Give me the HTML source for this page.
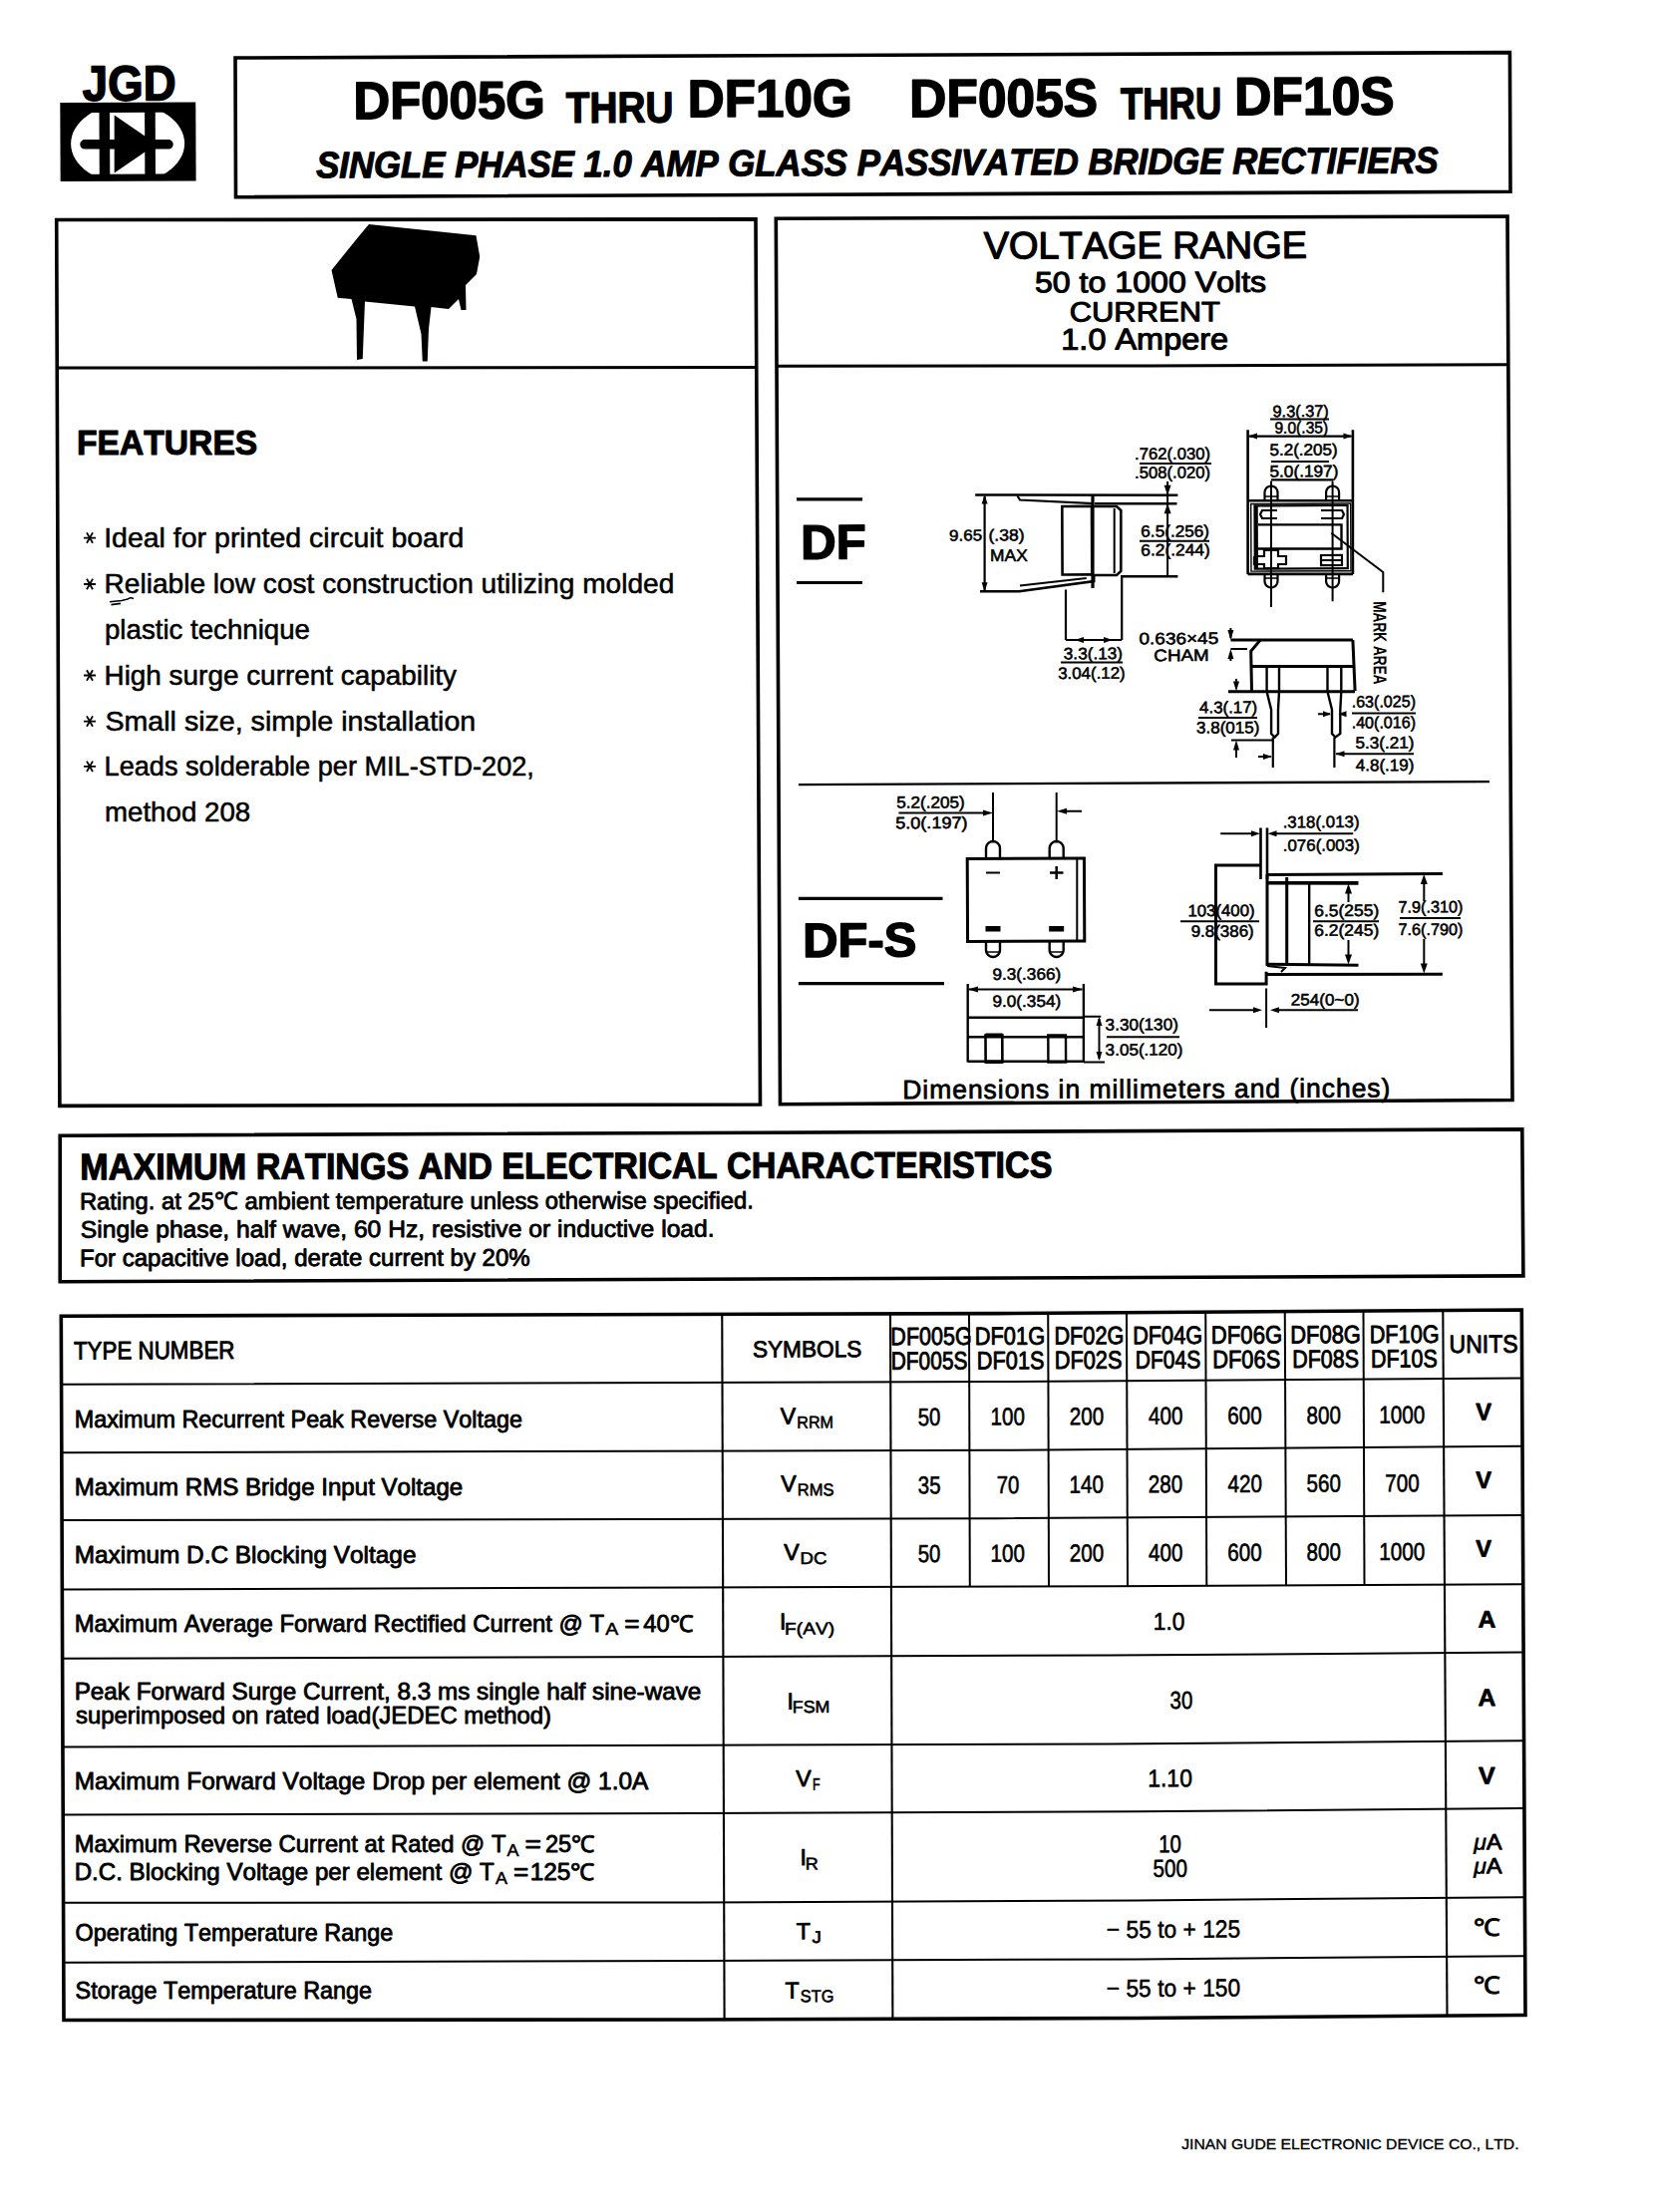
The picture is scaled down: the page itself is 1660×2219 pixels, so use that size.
<!DOCTYPE html>
<html><head><meta charset="utf-8"><style>
html,body{margin:0;padding:0;background:#fff;}
svg{display:block}
text{font-family:"Liberation Sans",sans-serif;fill:#000;font-kerning:none;}
</style></head><body>
<svg width="1660" height="2219" viewBox="0 0 1660 2219">
<rect width="1660" height="2219" fill="#fff"/>
<g transform="rotate(-0.25 830 1110)" stroke="#000" fill="none" stroke-linecap="butt" stroke-linejoin="miter">
<rect x="64.7" y="99.75" width="135.96" height="78.89" stroke="none" fill="#000"/>
<clipPath id="lc"><rect x="64.36" y="109.85" width="140" height="61.7"/></clipPath>
<ellipse cx="132.32" cy="140.95" rx="57" ry="40" fill="#fff" stroke="none" clip-path="url(#lc)"/>
<rect x="103.86" y="108.82" width="10.52" height="64.05" stroke="none" fill="#000"/>
<rect x="149.46" y="109.02" width="10.62" height="64.05" stroke="none" fill="#000"/>
<polygon points="119.05,112.29 118.79,170.29 161.22,141.47" stroke="none" fill="#000"/>
<line x1="89.22" y1="141.56" x2="173.22" y2="141.93" stroke-width="9.5" stroke-linecap="round"/>
<polygon points="240.6,55.42 1519.01,55.6 1519,195.3 240.49,195.12" stroke-width="3.6" fill="none"/>
<polygon points="60.59,217.13 761.88,219.59 762.51,1107.71 59.91,1106.04" stroke-width="3.6" fill="none"/>
<polyline points="60.24,365.63 503.24,367.32 763.24,368.2" stroke-width="3" fill="none"/>
<polygon points="373.87,223 481.32,234.72 484.97,255.99 481.65,273.47 470.6,284.42 470.99,309.43 465.99,309.4 463.54,298.39 453.49,308.35 436,306.27 433.41,328.26 432.02,360.76 427.02,360.73 425.89,333.23 419.51,305.7 369.53,300.48 368.97,312.98 367.03,357.97 361.27,358.95 360.95,317.95 356.04,297.92 342.29,296.61 336.17,268.84 361.3,237.95" stroke="none" fill="#000"/>
<line x1="86.5" y1="536.35" x2="98.5" y2="536.4" stroke-width="1.8"/>
<line x1="89.52" y1="531.17" x2="95.47" y2="541.59" stroke-width="1.8"/>
<line x1="95.52" y1="531.19" x2="89.47" y2="541.56" stroke-width="1.8"/>
<line x1="86.29" y1="582.75" x2="98.29" y2="582.8" stroke-width="1.8"/>
<line x1="89.32" y1="577.57" x2="95.27" y2="587.99" stroke-width="1.8"/>
<line x1="95.32" y1="577.59" x2="89.27" y2="587.96" stroke-width="1.8"/>
<line x1="85.89" y1="674.25" x2="97.89" y2="674.3" stroke-width="1.8"/>
<line x1="88.92" y1="669.07" x2="94.87" y2="679.48" stroke-width="1.8"/>
<line x1="94.92" y1="669.09" x2="88.87" y2="679.46" stroke-width="1.8"/>
<line x1="85.69" y1="720.35" x2="97.69" y2="720.4" stroke-width="1.8"/>
<line x1="88.72" y1="715.17" x2="94.67" y2="725.58" stroke-width="1.8"/>
<line x1="94.72" y1="715.19" x2="88.67" y2="725.56" stroke-width="1.8"/>
<line x1="85.5" y1="765.55" x2="97.5" y2="765.6" stroke-width="1.8"/>
<line x1="88.52" y1="760.37" x2="94.47" y2="770.78" stroke-width="1.8"/>
<line x1="94.52" y1="760.39" x2="88.47" y2="770.76" stroke-width="1.8"/>
<polygon points="782.19,218.98 1515.89,219.98 1517.02,1106.5 782.51,1107.59" stroke-width="3.6" fill="none"/>
<polyline points="782.24,367.08 1153.24,368.4 1517.24,368.79" stroke-width="3" fill="none"/>
<line x1="801.66" y1="500.77" x2="867.66" y2="501.06" stroke-width="3.2"/>
<line x1="801.29" y1="584.37" x2="867.29" y2="584.66" stroke-width="3.2"/>
<line x1="990.27" y1="498.69" x2="989.86" y2="592.69" stroke-width="2.2"/>
<polygon points="990.28,497.09 987.24,506.08 993.24,506.11" stroke="none" fill="#000"/>
<polygon points="989.85,593.99 986.89,584.98 992.89,585.01" stroke="none" fill="#000"/>
<line x1="980.88" y1="497.15" x2="1184.07" y2="498.34" stroke-width="2.6"/>
<polyline points="1023.17,498.34 1025.65,502.35 1099.64,506.37" stroke-width="2.2" fill="none"/>
<line x1="1100.64" y1="506.38" x2="1183.14" y2="506.74" stroke-width="2.6"/>
<rect x="1067.92" y="509.03" width="29.7" height="68.53" stroke-width="2.6" fill="none"/>
<line x1="1098.67" y1="498.17" x2="1098.27" y2="591.17" stroke-width="3.2"/>
<polyline points="1098.62,509.17 1122.62,509.27 1126.91,513.29 1126.64,574.29 1122.32,578.27 1098.32,578.17" stroke-width="2.6" fill="none"/>
<line x1="1120.32" y1="511.26" x2="1120.03" y2="576.26" stroke-width="2"/>
<line x1="1126.32" y1="579.59" x2="1183.72" y2="579.84" stroke-width="2.6"/>
<polyline points="985.25,593.97 1024.45,594.14 1099.5,584.17 1099.53,577.17" stroke-width="2.6" fill="none"/>
<polyline points="1025.28,588.45 1092.01,581.24" stroke-width="2" fill="none"/>
<line x1="1071.26" y1="592.45" x2="1071.04" y2="643.05" stroke-width="2.2"/>
<line x1="1127.52" y1="579.29" x2="1127.24" y2="643.29" stroke-width="2.2"/>
<line x1="1071.04" y1="643.05" x2="1127.24" y2="643.29" stroke-width="2.2"/>
<polygon points="1080.04,643.09 1089.05,640.13 1089.03,646.13" stroke="none" fill="#000"/>
<polygon points="1118.04,643.25 1109.05,640.21 1109.03,646.21" stroke="none" fill="#000"/>
<line x1="1065.94" y1="665.43" x2="1127.94" y2="665.7" stroke-width="2"/>
<line x1="1145.81" y1="466.37" x2="1217.81" y2="466.69" stroke-width="2"/>
<line x1="1173.83" y1="484.49" x2="1173.42" y2="579.49" stroke-width="2"/>
<polygon points="1173.77,498.29 1170.32,488.28 1177.32,488.31" stroke="none" fill="#000"/>
<polygon points="1173.74,506.69 1170.19,516.68 1177.19,516.71" stroke="none" fill="#000"/>
<line x1="1145.47" y1="544.07" x2="1215.47" y2="544.38" stroke-width="2"/>
<line x1="1277" y1="422.44" x2="1336" y2="422.7" stroke-width="2"/>
<line x1="1255.93" y1="439.45" x2="1358.43" y2="439.9" stroke-width="2.2"/>
<polygon points="1254.93,439.45 1263.94,436.49 1263.92,442.49" stroke="none" fill="#000"/>
<polygon points="1359.43,439.9 1350.44,436.86 1350.42,442.86" stroke="none" fill="#000"/>
<line x1="1254.56" y1="433.05" x2="1253.93" y2="577.74" stroke-width="2.6"/>
<line x1="1359.86" y1="433.51" x2="1359.23" y2="578.2" stroke-width="2.6"/>
<line x1="1277.82" y1="464.95" x2="1335.82" y2="465.2" stroke-width="2"/>
<line x1="1277.74" y1="483.35" x2="1339.74" y2="483.62" stroke-width="2.2"/>
<line x1="1254.25" y1="504.15" x2="1359.55" y2="504.6" stroke-width="2.6"/>
<line x1="1253.93" y1="577.74" x2="1359.23" y2="578.2" stroke-width="2.6"/>
<rect x="1257.33" y="507.36" width="100.01" height="67.64" stroke-width="1.4" fill="none"/>
<rect x="1261.13" y="509.28" width="93.03" height="63.21" stroke-width="2.2" fill="none"/>
<rect x="1260.63" y="509.27" width="3.73" height="62.82" stroke="none" fill="#000"/>
<polyline points="1264.54,528.29 1348.04,528.65 1347.94,552.75 1264.44,552.39" stroke-width="2.4" fill="none"/>
<line x1="1277.73" y1="484.55" x2="1277.18" y2="610.85" stroke-width="2"/>
<polyline points="1271.15,504.22 1271.18,495.92 1271.41,494.24 1272.07,492.67 1273.11,491.33 1274.46,490.3 1276.03,489.66 1277.71,489.45 1279.39,489.68 1280.96,490.33 1282.3,491.37 1283.33,492.72 1283.97,494.29 1284.18,495.98 1284.15,504.28" stroke-width="2.2" fill="none"/>
<line x1="1271.17" y1="499.92" x2="1284.17" y2="499.98" stroke-width="1.6"/>
<polyline points="1270.83,577.82 1270.8,584.92 1271.01,586.6 1271.65,588.17 1272.68,589.52 1274.02,590.56 1275.59,591.22 1277.27,591.45 1278.95,591.23 1280.52,590.59 1281.87,589.56 1282.91,588.22 1283.57,586.66 1283.8,584.98 1283.83,577.88" stroke-width="2.2" fill="none"/>
<line x1="1270.81" y1="581.92" x2="1283.81" y2="581.98" stroke-width="1.6"/>
<line x1="1339.33" y1="484.82" x2="1338.81" y2="605.42" stroke-width="2"/>
<polyline points="1332.75,504.49 1332.78,496.19 1333.01,494.51 1333.67,492.94 1334.71,491.6 1336.06,490.57 1337.63,489.93 1339.31,489.72 1340.99,489.95 1342.56,490.6 1343.9,491.64 1344.93,492.99 1345.57,494.56 1345.78,496.24 1345.75,504.54" stroke-width="2.2" fill="none"/>
<line x1="1332.77" y1="500.19" x2="1345.77" y2="500.24" stroke-width="1.6"/>
<polyline points="1332.43,578.09 1332.39,585.19 1332.61,586.87 1333.25,588.44 1334.28,589.79 1335.62,590.83 1337.18,591.49 1338.87,591.72 1340.55,591.5 1342.12,590.86 1343.47,589.83 1344.51,588.49 1345.17,586.93 1345.39,585.24 1345.43,578.14" stroke-width="2.2" fill="none"/>
<line x1="1332.41" y1="582.19" x2="1345.41" y2="582.24" stroke-width="1.6"/>
<polyline points="1283.6,513.97 1268.61,513.91 1266.59,517.9 1268.57,521.91 1283.57,521.97" stroke-width="2.2" fill="none"/>
<polyline points="1327.6,514.17 1348.6,514.26 1350.59,518.27 1348.57,522.26 1327.57,522.17" stroke-width="2.2" fill="none"/>
<polyline points="1260.4,559.87 1270.4,559.92 1270.43,553.92 1284.43,553.98 1284.4,559.98 1292.4,560.01 1292.37,568.01 1284.37,567.98 1284.35,571.98 1270.35,571.92 1270.37,567.92 1260.37,567.87 1260.4,559.87" stroke-width="2.2" fill="none"/>
<rect x="1327.41" y="559.17" width="20.96" height="10.09" stroke-width="2.2" fill="none"/>
<line x1="1327.39" y1="564.17" x2="1348.39" y2="564.26" stroke-width="1.8"/>
<polyline points="1337.81,536.91 1389.63,576.44 1389.54,596.74" stroke-width="2" fill="none"/>
<text x="0" y="0" transform="translate(1379.71,605.59) rotate(90)" font-size="18.5" font-weight="bold" textLength="83.4" lengthAdjust="spacingAndGlyphs" stroke="none">MARK AREA</text>
<line x1="1236.44" y1="643.87" x2="1358.94" y2="644.4" stroke-width="3"/>
<polyline points="1266.14,644 1256.69,655.06 1257.32,694.96" stroke-width="3" fill="none"/>
<line x1="1358.94" y1="644.4" x2="1360.91" y2="695.31" stroke-width="3"/>
<line x1="1256.92" y1="670.36" x2="1360.92" y2="670.81" stroke-width="3"/>
<line x1="1233.81" y1="695.56" x2="1360.81" y2="696.11" stroke-width="3"/>
<polygon points="1236.44,643.77 1233.48,633.76 1239.48,633.78" stroke="none" fill="#000"/>
<line x1="1236.49" y1="631.77" x2="1236.45" y2="641.77" stroke-width="2"/>
<line x1="1236.4" y1="652.77" x2="1253" y2="652.84" stroke-width="2"/>
<polygon points="1236.4,652.77 1233.36,662.76 1239.36,662.78" stroke="none" fill="#000"/>
<line x1="1236.38" y1="656.77" x2="1236.35" y2="664.77" stroke-width="2"/>
<line x1="1272.52" y1="670.43" x2="1272.41" y2="695.73" stroke-width="2.4"/>
<line x1="1284.92" y1="670.48" x2="1284.81" y2="695.78" stroke-width="2.4"/>
<polyline points="1272.41,695.73 1276.83,713.95 1276.73,737.95 1280.21,741.46 1283.63,737.98 1283.73,713.98 1284.81,695.78" stroke-width="2.4" fill="none"/>
<line x1="1278.41" y1="741.45" x2="1278.28" y2="771.95" stroke-width="2.2"/>
<line x1="1333.42" y1="670.69" x2="1333.31" y2="695.99" stroke-width="2.4"/>
<line x1="1347.22" y1="670.75" x2="1347.11" y2="696.05" stroke-width="2.4"/>
<polyline points="1333.31,695.99 1337.73,714.21 1337.63,738.21 1341.11,741.73 1345.93,738.25 1346.03,714.25 1347.11,696.05" stroke-width="2.4" fill="none"/>
<line x1="1340.01" y1="741.72" x2="1339.88" y2="772.22" stroke-width="2.2"/>
<polygon points="1241.81,695.29 1238.86,685.28 1244.86,685.31" stroke="none" fill="#000"/>
<line x1="1241.87" y1="682.79" x2="1241.85" y2="687.79" stroke-width="2"/>
<line x1="1236.6" y1="744.17" x2="1279.6" y2="744.36" stroke-width="2"/>
<polygon points="1241.6,744.39 1238.56,754.38 1244.56,754.41" stroke="none" fill="#000"/>
<line x1="1241.57" y1="751.79" x2="1241.52" y2="761.79" stroke-width="2"/>
<line x1="1263.53" y1="760.89" x2="1276.53" y2="760.95" stroke-width="2"/>
<polygon points="1277.53,760.95 1268.54,757.91 1268.51,763.91" stroke="none" fill="#000"/>
<line x1="1203.7" y1="721.63" x2="1262.7" y2="721.88" stroke-width="2"/>
<line x1="1357.72" y1="717.9" x2="1421.72" y2="718.18" stroke-width="2"/>
<line x1="1323.71" y1="718.45" x2="1335.71" y2="718.5" stroke-width="2"/>
<polygon points="1336.71,718.51 1328.73,715.47 1328.7,721.47" stroke="none" fill="#000"/>
<polygon points="1344.21,718.54 1352.23,715.57 1352.2,721.57" stroke="none" fill="#000"/>
<line x1="1341.54" y1="758.43" x2="1419.54" y2="758.77" stroke-width="2"/>
<polygon points="1341.04,758.43 1350.05,755.47 1350.03,761.47" stroke="none" fill="#000"/>
<line x1="802.31" y1="786.98" x2="1495.42" y2="787" stroke-width="2.4"/>
<line x1="801.81" y1="901.28" x2="946.41" y2="901.91" stroke-width="3.2"/>
<line x1="801.44" y1="986.47" x2="947.54" y2="987.11" stroke-width="3.2"/>
<rect x="971.28" y="862.11" width="117.24" height="82.91" stroke-width="3" fill="none"/>
<line x1="1081.38" y1="862.59" x2="1081.02" y2="944.99" stroke-width="2"/>
<line x1="997.37" y1="795.73" x2="997.16" y2="844.43" stroke-width="2"/>
<polyline points="990.08,862.2 990.13,851.7 990.38,849.89 991.08,848.2 992.2,846.76 993.66,845.65 995.35,844.96 997.16,844.73 998.97,844.97 1000.65,845.68 1002.1,846.8 1003.21,848.25 1003.9,849.94 1004.13,851.76 1004.08,862.26" stroke-width="2.4" fill="none"/>
<polyline points="989.72,944.7 989.68,953.7 989.91,955.51 990.61,957.2 991.71,958.65 993.16,959.77 994.84,960.48 996.65,960.73 998.47,960.5 1000.16,959.8 1001.61,958.7 1002.73,957.25 1003.44,955.57 1003.68,953.76 1003.72,944.76" stroke-width="2.4" fill="none"/>
<line x1="989.67" y1="955.7" x2="1003.67" y2="955.76" stroke-width="1.4"/>
<rect x="989.29" y="929.69" width="14.98" height="5.57" stroke="none" fill="#000"/>
<line x1="1061.07" y1="796.01" x2="1060.86" y2="844.7" stroke-width="2"/>
<polyline points="1053.78,862.47 1053.83,851.97 1054.07,850.16 1054.78,848.48 1055.9,847.03 1057.35,845.93 1059.05,845.24 1060.86,845 1062.67,845.25 1064.35,845.96 1065.8,847.08 1066.91,848.53 1067.6,850.22 1067.83,852.04 1067.78,862.54" stroke-width="2.4" fill="none"/>
<polyline points="1053.42,944.97 1053.38,953.97 1053.61,955.79 1054.31,957.48 1055.41,958.93 1056.86,960.05 1058.54,960.76 1060.35,961 1062.17,960.77 1063.86,960.08 1065.31,958.98 1066.43,957.53 1067.14,955.84 1067.38,954.03 1067.42,945.03" stroke-width="2.4" fill="none"/>
<line x1="1053.37" y1="955.97" x2="1067.37" y2="956.03" stroke-width="1.4"/>
<rect x="1052.99" y="929.97" width="14.98" height="5.57" stroke="none" fill="#000"/>
<line x1="990.02" y1="876.2" x2="1004.02" y2="876.26" stroke-width="2.2"/>
<line x1="1054.02" y1="876.48" x2="1067.52" y2="876.53" stroke-width="2.5"/>
<line x1="1060.75" y1="870" x2="1060.69" y2="883" stroke-width="2.5"/>
<line x1="902.68" y1="815.91" x2="988.28" y2="816.29" stroke-width="2"/>
<polygon points="997.28,816.33 987.3,813.28 987.27,819.28" stroke="none" fill="#000"/>
<line x1="1069.29" y1="814.74" x2="1086.29" y2="814.82" stroke-width="2"/>
<polygon points="1061.29,814.71 1071.3,811.75 1071.28,817.75" stroke="none" fill="#000"/>
<line x1="972.51" y1="993.22" x2="1086.01" y2="993.72" stroke-width="2"/>
<polygon points="971.51,993.22 981.52,990.26 981.5,996.26" stroke="none" fill="#000"/>
<polygon points="1086.51,993.72 1076.52,990.67 1076.5,996.67" stroke="none" fill="#000"/>
<line x1="971.24" y1="987.62" x2="970.89" y2="1066.21" stroke-width="2.4"/>
<line x1="1087.43" y1="988.12" x2="1087.09" y2="1066.72" stroke-width="2.4"/>
<line x1="971.09" y1="1021.31" x2="1087.29" y2="1021.82" stroke-width="2.6"/>
<line x1="971" y1="1040.91" x2="1087.2" y2="1041.42" stroke-width="2.6"/>
<line x1="970.9" y1="1065.31" x2="1087.1" y2="1065.82" stroke-width="2.6"/>
<rect x="988.81" y="1039.19" width="16.78" height="27.07" stroke-width="2.6" fill="none"/>
<rect x="988.82" y="1037.19" width="16.88" height="4.07" stroke="none" fill="#000"/>
<rect x="988.7" y="1064.19" width="16.88" height="3.57" stroke="none" fill="#000"/>
<rect x="1051.61" y="1039.47" width="17.68" height="27.08" stroke-width="2.4" fill="none"/>
<line x1="1087.39" y1="1020.82" x2="1104.69" y2="1020.9" stroke-width="2"/>
<line x1="1087.19" y1="1066.62" x2="1108.19" y2="1066.71" stroke-width="2"/>
<line x1="1102.88" y1="1023.19" x2="1102.71" y2="1063.19" stroke-width="2"/>
<polygon points="1102.89,1021.19 1099.85,1030.18 1105.85,1030.2" stroke="none" fill="#000"/>
<polygon points="1102.7,1065.19 1099.74,1056.18 1105.74,1056.2" stroke="none" fill="#000"/>
<line x1="1110.3" y1="1041.52" x2="1183.3" y2="1041.84" stroke-width="2"/>
<line x1="1225.39" y1="837.92" x2="1257.19" y2="838.06" stroke-width="2"/>
<polygon points="1265.19,838.1 1256.2,835.06 1256.18,841.06" stroke="none" fill="#000"/>
<line x1="1281.19" y1="838.17" x2="1358.39" y2="838.5" stroke-width="2"/>
<polygon points="1272.69,838.13 1281.7,835.17 1281.68,841.17" stroke="none" fill="#000"/>
<line x1="1265.71" y1="832.5" x2="1265.49" y2="883.9" stroke-width="2.6"/>
<line x1="1272.21" y1="832.53" x2="1271.99" y2="883.93" stroke-width="2.6"/>
<polyline points="1265.55,869.9 1220.55,869.7 1220.03,988.7 1270.63,988.92 1270.69,976.72" stroke-width="3" fill="none"/>
<line x1="1272.01" y1="879.33" x2="1447.91" y2="879.29" stroke-width="3"/>
<line x1="1271.97" y1="887.73" x2="1363.47" y2="888.23" stroke-width="3.6"/>
<line x1="1271.62" y1="969.23" x2="1363.11" y2="970.62" stroke-width="3"/>
<line x1="1271.57" y1="979.53" x2="1447.47" y2="979.89" stroke-width="3"/>
<line x1="1272.01" y1="878.93" x2="1271.61" y2="970.93" stroke-width="3"/>
<line x1="1291.7" y1="882.01" x2="1291.31" y2="971.01" stroke-width="3"/>
<line x1="1314.18" y1="887.11" x2="1313.81" y2="971.11" stroke-width="2.4"/>
<polyline points="1271.61,970.93 1289.6,973 1285.58,976.99" stroke-width="2" fill="none"/>
<line x1="1184.81" y1="925.75" x2="1263.81" y2="926.09" stroke-width="2"/>
<line x1="1317.81" y1="926.33" x2="1383.81" y2="926.61" stroke-width="2"/>
<line x1="1353.43" y1="897.28" x2="1353.39" y2="907.28" stroke-width="2"/>
<polygon points="1353.47,888.78 1349.93,898.77 1356.93,898.8" stroke="none" fill="#000"/>
<line x1="1353.22" y1="945.28" x2="1353.16" y2="960.28" stroke-width="2"/>
<polygon points="1353.12,969.78 1349.66,959.77 1356.66,959.8" stroke="none" fill="#000"/>
<line x1="1404.82" y1="923.61" x2="1465.82" y2="923.87" stroke-width="2"/>
<line x1="1429.28" y1="887.61" x2="1429.19" y2="906.61" stroke-width="2"/>
<polygon points="1429.31,879.61 1425.77,889.6 1432.77,889.63" stroke="none" fill="#000"/>
<line x1="1429.03" y1="944.61" x2="1428.91" y2="970.61" stroke-width="2"/>
<polygon points="1428.88,979.11 1425.42,969.1 1432.42,969.13" stroke="none" fill="#000"/>
<line x1="1280.42" y1="1015.16" x2="1362.42" y2="1015.52" stroke-width="2"/>
<line x1="1213.42" y1="1014.87" x2="1262.42" y2="1015.09" stroke-width="2"/>
<polygon points="1266.42,1015.1 1257.43,1012.06 1257.41,1018.06" stroke="none" fill="#000"/>
<polygon points="1274.42,1015.14 1283.43,1012.18 1283.4,1018.18" stroke="none" fill="#000"/>
<line x1="1270.61" y1="993.52" x2="1270.44" y2="1032.92" stroke-width="2"/>
<polygon points="60.08,1135.84 1526.69,1135.94 1527.15,1282.94 59.44,1282.44" stroke-width="3.6" fill="none"/>
<polygon points="60.39,1316.84 999.09,1318.34 1525.4,1317.04 1526.02,2024.45 1136.01,2025.84 696,2025.42 60.01,2023.15" stroke-width="3.6" fill="none"/>
<polyline points="59.79,1385.49 998.79,1386.74 1524.8,1385.53" stroke-width="2.0" fill="none"/>
<polyline points="59.49,1453.84 998.49,1455.54 1524.51,1453.83" stroke-width="2.0" fill="none"/>
<polyline points="59.2,1521.64 998.2,1523.94 1524.2,1523.03" stroke-width="2.0" fill="none"/>
<polyline points="58.89,1591.14 697.9,1591.93 1111.9,1592.48 1523.9,1592.23" stroke-width="2.0" fill="none"/>
<polyline points="59.59,1660.39 697.59,1661.43 1111.6,1661.73 1524.6,1660.64" stroke-width="2.0" fill="none"/>
<polyline points="59.2,1749.14 697.21,1750.18 1111.21,1750.73 1525.22,1749.24" stroke-width="2.0" fill="none"/>
<polyline points="59.91,1817.15 696.91,1818.43 1136.91,1818.65 1524.92,1817.04" stroke-width="2.0" fill="none"/>
<polyline points="59.52,1905.4 696.52,1907.93 1136.52,1907.75 1525.53,1906.24" stroke-width="2.0" fill="none"/>
<polyline points="59.26,1965.4 696.26,1966.42 1136.26,1966.74 1525.27,1965.24" stroke-width="2.0" fill="none"/>
<polyline points="723.34,1317.54 722.6,2025.54" stroke-width="2.1" fill="none"/>
<polyline points="892.09,1318.27 891.4,2026.28" stroke-width="2.1" fill="none"/>
<polyline points="971.1,1317.62 970.7,1592.62" stroke-width="2.0" fill="none"/>
<polyline points="1050.34,1317.96 1049.9,1592.46" stroke-width="2.0" fill="none"/>
<polyline points="1129.1,1317.31 1128.9,1592.31" stroke-width="2.0" fill="none"/>
<polyline points="1208.35,1317.65 1208.2,1592.15" stroke-width="2.0" fill="none"/>
<polyline points="1287.85,1317 1287.9,1592" stroke-width="2.0" fill="none"/>
<polyline points="1366.6,1316.84 1366.4,1591.85" stroke-width="2.0" fill="none"/>
<polyline points="1446.4,1316.69 1447.51,2024.7" stroke-width="2.1" fill="none"/>
<polyline points="112.22,600.66 124.22,599.42 130.23,597.94 133.23,596.45 136.23,597.47" stroke-width="1.6" fill="none"/>
<line x1="113.7" y1="603.47" x2="123.21" y2="602.31" stroke-width="1.6"/>
</g>
<text x="82.85" y="100.86" font-size="49.58" transform="rotate(-0.25 82.85 100.86)" font-weight="bold" textLength="93.92" lengthAdjust="spacingAndGlyphs" stroke="#000" stroke-width="1.49" stroke-linejoin="round">JGD</text>
<text x="354.39" y="119.21" font-size="52.93" transform="rotate(-0.25 354.39 119.21)" font-weight="bold" textLength="192.48" lengthAdjust="spacingAndGlyphs" stroke="#000" stroke-width="1.59" stroke-linejoin="round">DF005G</text>
<text x="567.72" y="123.1" font-size="43.52" transform="rotate(-0.25 567.72 123.1)" font-weight="bold" textLength="107.75" lengthAdjust="spacingAndGlyphs" stroke="#000" stroke-width="1.31" stroke-linejoin="round">THRU</text>
<text x="689.87" y="117.21" font-size="52.93" transform="rotate(-0.25 689.87 117.21)" font-weight="bold" textLength="165.01" lengthAdjust="spacingAndGlyphs" stroke="#000" stroke-width="1.59" stroke-linejoin="round">DF10G</text>
<text x="912.36" y="117.2" font-size="53.62" transform="rotate(-0.25 912.36 117.2)" font-weight="bold" textLength="188.85" lengthAdjust="spacingAndGlyphs" stroke="#000" stroke-width="1.61" stroke-linejoin="round">DF005S</text>
<text x="1124.01" y="119.33" font-size="44.57" transform="rotate(-0.25 1124.01 119.33)" font-weight="bold" textLength="101.3" lengthAdjust="spacingAndGlyphs" stroke="#000" stroke-width="1.34" stroke-linejoin="round">THRU</text>
<text x="1238.36" y="115.2" font-size="53.62" transform="rotate(-0.25 1238.36 115.2)" font-weight="bold" textLength="160.35" lengthAdjust="spacingAndGlyphs" stroke="#000" stroke-width="1.61" stroke-linejoin="round">DF10S</text>
<text x="317.13" y="178.35" font-size="36.94" transform="rotate(-0.25 317.13 178.35)" font-weight="bold" font-style="italic" textLength="1125.67" lengthAdjust="spacingAndGlyphs" stroke="#000" stroke-width="1.11" stroke-linejoin="round">SINGLE PHASE 1.0 AMP GLASS PASSIVATED BRIDGE RECTIFIERS</text>
<text x="77.02" y="455.73" font-size="34.82" font-weight="bold" textLength="181.27" lengthAdjust="spacingAndGlyphs" stroke="#000" stroke-width="1.04" stroke-linejoin="round">FEATURES</text>
<text x="104.15" y="548.62" font-size="28.3" textLength="361.17" lengthAdjust="spacingAndGlyphs" stroke="#000" stroke-width="0.55" stroke-linejoin="round">Ideal for printed circuit board</text>
<text x="104.47" y="595.02" font-size="28.3" textLength="571.87" lengthAdjust="spacingAndGlyphs" stroke="#000" stroke-width="0.55" stroke-linejoin="round">Reliable low cost construction utilizing molded</text>
<text x="104.99" y="640.98" font-size="28.3" textLength="205.96" lengthAdjust="spacingAndGlyphs" stroke="#000" stroke-width="0.55" stroke-linejoin="round">plastic technique</text>
<text x="104.49" y="686.52" font-size="28.3" textLength="353.59" lengthAdjust="spacingAndGlyphs" stroke="#000" stroke-width="0.55" stroke-linejoin="round">High surge current capability</text>
<text x="105.48" y="732.62" font-size="28.3" textLength="371.8" lengthAdjust="spacingAndGlyphs" stroke="#000" stroke-width="0.55" stroke-linejoin="round">Small size, simple installation</text>
<text x="104.55" y="777.83" font-size="28.3" textLength="431.31" lengthAdjust="spacingAndGlyphs" stroke="#000" stroke-width="0.55" stroke-linejoin="round">Leads solderable per MIL-STD-202,</text>
<text x="104.94" y="823.52" font-size="28.3" textLength="146.29" lengthAdjust="spacingAndGlyphs" stroke="#000" stroke-width="0.55" stroke-linejoin="round">method 208</text>
<text x="986.75" y="259.33" font-size="38.04" transform="rotate(-0.1 986.75 259.33)" textLength="324.21" lengthAdjust="spacingAndGlyphs" stroke="#000" stroke-width="1.33" stroke-linejoin="round">VOLTAGE RANGE</text>
<text x="1037.98" y="293.24" font-size="29.39" transform="rotate(-0.1 1037.98 293.24)" textLength="232.17" lengthAdjust="spacingAndGlyphs" stroke="#000" stroke-width="1.03" stroke-linejoin="round">50 to 1000 Volts</text>
<text x="1072.67" y="322.51" font-size="27.96" transform="rotate(-0.1 1072.67 322.51)" textLength="151.3" lengthAdjust="spacingAndGlyphs" stroke="#000" stroke-width="0.98" stroke-linejoin="round">CURRENT</text>
<text x="1064.3" y="350.72" font-size="30.08" transform="rotate(-0.1 1064.3 350.72)" textLength="167.86" lengthAdjust="spacingAndGlyphs" stroke="#000" stroke-width="1.05" stroke-linejoin="round">1.0 Ampere</text>
<text x="803.35" y="560.67" font-size="48.75" transform="rotate(-0.25 803.35 560.67)" font-weight="bold" textLength="65.42" lengthAdjust="spacingAndGlyphs" stroke="#000" stroke-width="1.46" stroke-linejoin="round">DF</text>
<text x="1066.84" y="661.31" font-size="16.5" transform="rotate(-0.25 1066.84 661.31)" textLength="59.14" lengthAdjust="spacingAndGlyphs" stroke="#000" stroke-width="0.58" stroke-linejoin="round">3.3(.13)</text>
<text x="1061.15" y="681.01" font-size="16.5" transform="rotate(-0.25 1061.15 681.01)" textLength="67.61" lengthAdjust="spacingAndGlyphs" stroke="#000" stroke-width="0.58" stroke-linejoin="round">3.04(.12)</text>
<text x="952.07" y="542.43" font-size="15.41" transform="rotate(-0.25 952.07 542.43)" textLength="33.18" lengthAdjust="spacingAndGlyphs" stroke="#000" stroke-width="0.54" stroke-linejoin="round">9.65</text>
<text x="991.49" y="542.42" font-size="16.2" transform="rotate(-0.25 991.49 542.42)" textLength="36.22" lengthAdjust="spacingAndGlyphs" stroke="#000" stroke-width="0.57" stroke-linejoin="round">(.38)</text>
<text x="993.07" y="563" font-size="16.87" transform="rotate(-0.25 993.07 563)" textLength="37.7" lengthAdjust="spacingAndGlyphs" stroke="#000" stroke-width="0.59" stroke-linejoin="round">MAX</text>
<text x="1138.07" y="460.91" font-size="16.5" transform="rotate(-0.25 1138.07 460.91)" textLength="75.98" lengthAdjust="spacingAndGlyphs" stroke="#000" stroke-width="0.58" stroke-linejoin="round">.762(.030)</text>
<text x="1138.07" y="479.71" font-size="16.5" transform="rotate(-0.25 1138.07 479.71)" textLength="75.98" lengthAdjust="spacingAndGlyphs" stroke="#000" stroke-width="0.58" stroke-linejoin="round">.508(.020)</text>
<text x="1144.32" y="538.61" font-size="16.5" transform="rotate(-0.25 1144.32 538.61)" textLength="68.76" lengthAdjust="spacingAndGlyphs" stroke="#000" stroke-width="0.58" stroke-linejoin="round">6.5(.256)</text>
<text x="1144.31" y="557.41" font-size="16.5" transform="rotate(-0.25 1144.31 557.41)" textLength="69.48" lengthAdjust="spacingAndGlyphs" stroke="#000" stroke-width="0.58" stroke-linejoin="round">6.2(.244)</text>
<text x="1276.52" y="418.21" font-size="16.5" transform="rotate(-0.25 1276.52 418.21)" textLength="56.3" lengthAdjust="spacingAndGlyphs" stroke="#000" stroke-width="0.58" stroke-linejoin="round">9.3(.37)</text>
<text x="1278.46" y="434.71" font-size="16.5" transform="rotate(-0.25 1278.46 434.71)" textLength="53.72" lengthAdjust="spacingAndGlyphs" stroke="#000" stroke-width="0.58" stroke-linejoin="round">9.0(.35)</text>
<text x="1273.4" y="456.91" font-size="16.5" transform="rotate(-0.25 1273.4 456.91)" textLength="68.37" lengthAdjust="spacingAndGlyphs" stroke="#000" stroke-width="0.58" stroke-linejoin="round">5.2(.205)</text>
<text x="1273.4" y="478.51" font-size="16.5" transform="rotate(-0.25 1273.4 478.51)" textLength="69.08" lengthAdjust="spacingAndGlyphs" stroke="#000" stroke-width="0.58" stroke-linejoin="round">5.0(.197)</text>
<text x="1203.1" y="715.31" font-size="16.5" transform="rotate(-0.25 1203.1 715.31)" textLength="58.16" lengthAdjust="spacingAndGlyphs" stroke="#000" stroke-width="0.58" stroke-linejoin="round">4.3(.17)</text>
<text x="1199.94" y="735.61" font-size="16.5" transform="rotate(-0.25 1199.94 735.61)" textLength="63.53" lengthAdjust="spacingAndGlyphs" stroke="#000" stroke-width="0.58" stroke-linejoin="round">3.8(015)</text>
<text x="1355.72" y="709.51" font-size="16.5" transform="rotate(-0.25 1355.72 709.51)" textLength="64.29" lengthAdjust="spacingAndGlyphs" stroke="#000" stroke-width="0.58" stroke-linejoin="round">.63(.025)</text>
<text x="1355.72" y="730.51" font-size="16.5" transform="rotate(-0.25 1355.72 730.51)" textLength="64.29" lengthAdjust="spacingAndGlyphs" stroke="#000" stroke-width="0.58" stroke-linejoin="round">.40(.016)</text>
<text x="1359.4" y="750.81" font-size="16.5" transform="rotate(-0.25 1359.4 750.81)" textLength="59.17" lengthAdjust="spacingAndGlyphs" stroke="#000" stroke-width="0.58" stroke-linejoin="round">5.3(.21)</text>
<text x="1359.7" y="773.31" font-size="16.5" transform="rotate(-0.25 1359.7 773.31)" textLength="58.87" lengthAdjust="spacingAndGlyphs" stroke="#000" stroke-width="0.58" stroke-linejoin="round">4.8(.19)</text>
<text x="1142.55" y="646.31" font-size="16.5" transform="rotate(-0.25 1142.55 646.31)" textLength="79.66" lengthAdjust="spacingAndGlyphs" stroke="#000" stroke-width="0.58" stroke-linejoin="round">0.636×45</text>
<text x="1157.34" y="663.21" font-size="16.64" transform="rotate(-0.25 1157.34 663.21)" textLength="55.31" lengthAdjust="spacingAndGlyphs" stroke="#000" stroke-width="0.58" stroke-linejoin="round">CHAM</text>
<text x="805.25" y="959.98" font-size="48.19" transform="rotate(-0.25 805.25 959.98)" font-weight="bold" textLength="114.24" lengthAdjust="spacingAndGlyphs" stroke="#000" stroke-width="1.45" stroke-linejoin="round">DF-S</text>
<text x="899.2" y="810.61" font-size="16.5" transform="rotate(-0.25 899.2 810.61)" textLength="68.57" lengthAdjust="spacingAndGlyphs" stroke="#000" stroke-width="0.58" stroke-linejoin="round">5.2(.205)</text>
<text x="898.16" y="831.21" font-size="16.5" transform="rotate(-0.25 898.16 831.21)" textLength="72.47" lengthAdjust="spacingAndGlyphs" stroke="#000" stroke-width="0.58" stroke-linejoin="round">5.0(.197)</text>
<text x="995.48" y="982.91" font-size="16.5" transform="rotate(-0.25 995.48 982.91)" textLength="68.79" lengthAdjust="spacingAndGlyphs" stroke="#000" stroke-width="0.58" stroke-linejoin="round">9.3(.366)</text>
<text x="995.48" y="1010.11" font-size="16.5" transform="rotate(-0.25 995.48 1010.11)" textLength="68.79" lengthAdjust="spacingAndGlyphs" stroke="#000" stroke-width="0.58" stroke-linejoin="round">9.0(.354)</text>
<text x="1108.64" y="1033.51" font-size="16.5" transform="rotate(-0.25 1108.64 1033.51)" textLength="73.23" lengthAdjust="spacingAndGlyphs" stroke="#000" stroke-width="0.58" stroke-linejoin="round">3.30(130)</text>
<text x="1108.64" y="1058.81" font-size="16.5" transform="rotate(-0.25 1108.64 1058.81)" textLength="77.93" lengthAdjust="spacingAndGlyphs" stroke="#000" stroke-width="0.58" stroke-linejoin="round">3.05(.120)</text>
<text x="1286.65" y="830.31" font-size="16.5" transform="rotate(-0.25 1286.65 830.31)" textLength="76.91" lengthAdjust="spacingAndGlyphs" stroke="#000" stroke-width="0.58" stroke-linejoin="round">.318(.013)</text>
<text x="1286.75" y="853.71" font-size="16.5" transform="rotate(-0.25 1286.75 853.71)" textLength="77.01" lengthAdjust="spacingAndGlyphs" stroke="#000" stroke-width="0.58" stroke-linejoin="round">.076(.003)</text>
<text x="1191.41" y="919.21" font-size="16.5" transform="rotate(-0.25 1191.41 919.21)" textLength="67.24" lengthAdjust="spacingAndGlyphs" stroke="#000" stroke-width="0.58" stroke-linejoin="round">103(400)</text>
<text x="1194.7" y="939.81" font-size="16.5" transform="rotate(-0.25 1194.7 939.81)" textLength="63.07" lengthAdjust="spacingAndGlyphs" stroke="#000" stroke-width="0.58" stroke-linejoin="round">9.8(386)</text>
<text x="1318.2" y="919.21" font-size="16.5" transform="rotate(-0.25 1318.2 919.21)" textLength="65.09" lengthAdjust="spacingAndGlyphs" stroke="#000" stroke-width="0.58" stroke-linejoin="round">6.5(255)</text>
<text x="1318.2" y="938.91" font-size="16.5" transform="rotate(-0.25 1318.2 938.91)" textLength="65.09" lengthAdjust="spacingAndGlyphs" stroke="#000" stroke-width="0.58" stroke-linejoin="round">6.2(245)</text>
<text x="1402.46" y="915.51" font-size="16.5" transform="rotate(-0.25 1402.46 915.51)" textLength="65.06" lengthAdjust="spacingAndGlyphs" stroke="#000" stroke-width="0.58" stroke-linejoin="round">7.9(.310)</text>
<text x="1402.46" y="938.11" font-size="16.5" transform="rotate(-0.25 1402.46 938.11)" textLength="65.06" lengthAdjust="spacingAndGlyphs" stroke="#000" stroke-width="0.58" stroke-linejoin="round">7.6(.790)</text>
<text x="1294.83" y="1008.61" font-size="16.5" transform="rotate(-0.25 1294.83 1008.61)" textLength="68.74" lengthAdjust="spacingAndGlyphs" stroke="#000" stroke-width="0.58" stroke-linejoin="round">254(0~0)</text>
<text x="905.23" y="1102.22" font-size="26.53" transform="rotate(-0.2 905.23 1102.22)" textLength="489.17" lengthAdjust="spacing" stroke="#000" stroke-width="0.75" stroke-linejoin="round">Dimensions in millimeters and (inches)</text>
<text x="80.27" y="1183.24" font-size="37.05" transform="rotate(-0.12 80.27 1183.24)" font-weight="bold" textLength="975.21" lengthAdjust="spacingAndGlyphs" stroke="#000" stroke-width="1.11" stroke-linejoin="round">MAXIMUM RATINGS AND ELECTRICAL CHARACTERISTICS</text>
<text x="79.95" y="1213.18" font-size="23.79" transform="rotate(-0.07 79.95 1213.18)" textLength="675.83" lengthAdjust="spacingAndGlyphs" stroke="#000" stroke-width="0.83" stroke-linejoin="round">Rating. at 25℃ ambient temperature unless otherwise specified.</text>
<text x="80.8" y="1241.38" font-size="23.73" transform="rotate(-0.07 80.8 1241.38)" textLength="635.84" lengthAdjust="spacingAndGlyphs" stroke="#000" stroke-width="0.83" stroke-linejoin="round">Single phase, half wave, 60 Hz, resistive or inductive load.</text>
<text x="79.95" y="1270.18" font-size="24.07" transform="rotate(-0.07 79.95 1270.18)" textLength="451.79" lengthAdjust="spacingAndGlyphs" stroke="#000" stroke-width="0.84" stroke-linejoin="round">For capacitive load, derate current by 20%</text>
<text x="73.94" y="1363.56" font-size="25.03" transform="rotate(-0.25 73.94 1363.56)" textLength="161.56" lengthAdjust="spacingAndGlyphs" stroke="#000" stroke-width="0.88" stroke-linejoin="round">TYPE NUMBER</text>
<text x="754.88" y="1361.59" font-size="23.18" transform="rotate(-0.25 754.88 1361.59)" textLength="109.51" lengthAdjust="spacingAndGlyphs" stroke="#000" stroke-width="0.81" stroke-linejoin="round">SYMBOLS</text>
<text x="893.37" y="1349.26" font-size="25" transform="rotate(-0.25 893.37 1349.26)" textLength="81.3" lengthAdjust="spacingAndGlyphs" stroke="#000" stroke-width="0.88" stroke-linejoin="round">DF005G</text>
<text x="893.72" y="1373.78" font-size="25" transform="rotate(-0.25 893.72 1373.78)" textLength="76.8" lengthAdjust="spacingAndGlyphs" stroke="#000" stroke-width="0.88" stroke-linejoin="round">DF005S</text>
<text x="977.64" y="1348.89" font-size="25" transform="rotate(-0.25 977.64 1348.89)" textLength="70.56" lengthAdjust="spacingAndGlyphs" stroke="#000" stroke-width="0.88" stroke-linejoin="round">DF01G</text>
<text x="979.85" y="1373.4" font-size="25" transform="rotate(-0.25 979.85 1373.4)" textLength="67.71" lengthAdjust="spacingAndGlyphs" stroke="#000" stroke-width="0.88" stroke-linejoin="round">DF01S</text>
<text x="1057.41" y="1348.54" font-size="25" transform="rotate(-0.25 1057.41 1348.54)" textLength="70.03" lengthAdjust="spacingAndGlyphs" stroke="#000" stroke-width="0.88" stroke-linejoin="round">DF02G</text>
<text x="1057.65" y="1373.06" font-size="25" transform="rotate(-0.25 1057.65 1373.06)" textLength="67.92" lengthAdjust="spacingAndGlyphs" stroke="#000" stroke-width="0.88" stroke-linejoin="round">DF02S</text>
<text x="1136.16" y="1348.2" font-size="25" transform="rotate(-0.25 1136.16 1348.2)" textLength="70.03" lengthAdjust="spacingAndGlyphs" stroke="#000" stroke-width="0.88" stroke-linejoin="round">DF04G</text>
<text x="1138.71" y="1372.71" font-size="25" transform="rotate(-0.25 1138.71 1372.71)" textLength="65.57" lengthAdjust="spacingAndGlyphs" stroke="#000" stroke-width="0.88" stroke-linejoin="round">DF04S</text>
<text x="1214.87" y="1347.86" font-size="25" transform="rotate(-0.25 1214.87 1347.86)" textLength="71.34" lengthAdjust="spacingAndGlyphs" stroke="#000" stroke-width="0.88" stroke-linejoin="round">DF06G</text>
<text x="1216.14" y="1372.37" font-size="25" transform="rotate(-0.25 1216.14 1372.37)" textLength="68.18" lengthAdjust="spacingAndGlyphs" stroke="#000" stroke-width="0.88" stroke-linejoin="round">DF06S</text>
<text x="1294.14" y="1347.51" font-size="25" transform="rotate(-0.25 1294.14 1347.51)" textLength="70.82" lengthAdjust="spacingAndGlyphs" stroke="#000" stroke-width="0.88" stroke-linejoin="round">DF08G</text>
<text x="1296.17" y="1372.02" font-size="25" transform="rotate(-0.25 1296.17 1372.02)" textLength="66.87" lengthAdjust="spacingAndGlyphs" stroke="#000" stroke-width="0.88" stroke-linejoin="round">DF08S</text>
<text x="1373.66" y="1347.16" font-size="25" transform="rotate(-0.25 1373.66 1347.16)" textLength="70.03" lengthAdjust="spacingAndGlyphs" stroke="#000" stroke-width="0.88" stroke-linejoin="round">DF10G</text>
<text x="1374.92" y="1371.68" font-size="25" transform="rotate(-0.25 1374.92 1371.68)" textLength="66.87" lengthAdjust="spacingAndGlyphs" stroke="#000" stroke-width="0.88" stroke-linejoin="round">DF10S</text>
<text x="1453.56" y="1357.06" font-size="25.03" transform="rotate(-0.25 1453.56 1357.06)" textLength="69.06" lengthAdjust="spacingAndGlyphs" stroke="#000" stroke-width="0.88" stroke-linejoin="round">UNITS</text>
<text x="74.74" y="1432.08" font-size="23.2" textLength="449.29" lengthAdjust="spacingAndGlyphs" stroke="#000" stroke-width="0.81" stroke-linejoin="round">Maximum Recurrent Peak Reverse Voltage</text>
<text x="74.68" y="1499.58" font-size="23.2" textLength="389.58" lengthAdjust="spacingAndGlyphs" stroke="#000" stroke-width="0.81" stroke-linejoin="round">Maximum RMS Bridge Input Voltage</text>
<text x="74.66" y="1568.38" font-size="23.2" textLength="342.82" lengthAdjust="spacingAndGlyphs" stroke="#000" stroke-width="0.81" stroke-linejoin="round">Maximum D.C Blocking Voltage</text>
<text x="74.7" y="1636.58" font-size="23.2" textLength="531.35" lengthAdjust="spacingAndGlyphs" stroke="#000" stroke-width="0.81" stroke-linejoin="round">Maximum Average Forward Rectified Current @ T</text>
<text x="607.16" y="1639.99" font-size="17" textLength="12.98" lengthAdjust="spacingAndGlyphs" stroke="#000" stroke-width="0.6" stroke-linejoin="round">A</text>
<text x="626.33" y="1636.58" font-size="23.2" textLength="15.25" lengthAdjust="spacingAndGlyphs" stroke="#000" stroke-width="0.81" stroke-linejoin="round">=</text>
<text x="645.39" y="1636.58" font-size="23.2" textLength="49.79" lengthAdjust="spacingAndGlyphs" stroke="#000" stroke-width="0.81" stroke-linejoin="round">40℃</text>
<text x="74.66" y="1704.58" font-size="23.2" textLength="628.71" lengthAdjust="spacingAndGlyphs" stroke="#000" stroke-width="0.81" stroke-linejoin="round">Peak Forward Surge Current, 8.3 ms single half sine-wave</text>
<text x="75.99" y="1729.08" font-size="23.2" textLength="477.09" lengthAdjust="spacingAndGlyphs" stroke="#000" stroke-width="0.81" stroke-linejoin="round">superimposed on rated load(JEDEC method)</text>
<text x="74.65" y="1795.08" font-size="23.2" textLength="575.69" lengthAdjust="spacingAndGlyphs" stroke="#000" stroke-width="0.81" stroke-linejoin="round">Maximum Forward Voltage Drop per element @ 1.0A</text>
<text x="74.7" y="1858.38" font-size="23.2" textLength="432.74" lengthAdjust="spacingAndGlyphs" stroke="#000" stroke-width="0.81" stroke-linejoin="round">Maximum Reverse Current at Rated @ T</text>
<text x="508.56" y="1862.29" font-size="17" textLength="11.98" lengthAdjust="spacingAndGlyphs" stroke="#000" stroke-width="0.6" stroke-linejoin="round">A</text>
<text x="526.63" y="1858.38" font-size="23.2" textLength="16.45" lengthAdjust="spacingAndGlyphs" stroke="#000" stroke-width="0.81" stroke-linejoin="round">=</text>
<text x="546.97" y="1858.38" font-size="23.2" textLength="49.61" lengthAdjust="spacingAndGlyphs" stroke="#000" stroke-width="0.81" stroke-linejoin="round">25℃</text>
<text x="74.68" y="1885.88" font-size="23.2" textLength="421.17" lengthAdjust="spacingAndGlyphs" stroke="#000" stroke-width="0.81" stroke-linejoin="round">D.C. Blocking Voltage per element @ T</text>
<text x="496.96" y="1889.79" font-size="17" textLength="11.98" lengthAdjust="spacingAndGlyphs" stroke="#000" stroke-width="0.6" stroke-linejoin="round">A</text>
<text x="515.13" y="1885.88" font-size="23.2" textLength="15.25" lengthAdjust="spacingAndGlyphs" stroke="#000" stroke-width="0.81" stroke-linejoin="round">=</text>
<text x="531.76" y="1885.88" font-size="23.2" textLength="64.83" lengthAdjust="spacingAndGlyphs" stroke="#000" stroke-width="0.81" stroke-linejoin="round">125℃</text>
<text x="75.55" y="1947.08" font-size="23.2" textLength="318.69" lengthAdjust="spacingAndGlyphs" stroke="#000" stroke-width="0.81" stroke-linejoin="round">Operating Temperature Range</text>
<text x="75.59" y="2004.58" font-size="23.2" textLength="297.54" lengthAdjust="spacingAndGlyphs" stroke="#000" stroke-width="0.81" stroke-linejoin="round">Storage Temperature Range</text>
<text x="782.8" y="1428.6" font-size="23.2" transform="rotate(-0.25 782.8 1428.6)" textLength="15.47" lengthAdjust="spacingAndGlyphs" stroke="#000" stroke-width="0.81" stroke-linejoin="round">V</text>
<text x="799.24" y="1432.63" font-size="17" transform="rotate(-0.25 799.24 1432.63)" textLength="36.78" lengthAdjust="spacingAndGlyphs" stroke="#000" stroke-width="0.6" stroke-linejoin="round">RRM</text>
<text x="783.3" y="1496.3" font-size="23.2" transform="rotate(-0.25 783.3 1496.3)" textLength="15.47" lengthAdjust="spacingAndGlyphs" stroke="#000" stroke-width="0.81" stroke-linejoin="round">V</text>
<text x="799.71" y="1500.33" font-size="17" transform="rotate(-0.25 799.71 1500.33)" textLength="36.75" lengthAdjust="spacingAndGlyphs" stroke="#000" stroke-width="0.6" stroke-linejoin="round">RMS</text>
<text x="786.3" y="1565.09" font-size="23.2" transform="rotate(-0.25 786.3 1565.09)" textLength="15.47" lengthAdjust="spacingAndGlyphs" stroke="#000" stroke-width="0.81" stroke-linejoin="round">V</text>
<text x="802.54" y="1569.12" font-size="17" transform="rotate(-0.25 802.54 1569.12)" textLength="26.87" lengthAdjust="spacingAndGlyphs" stroke="#000" stroke-width="0.6" stroke-linejoin="round">DC</text>
<text x="782.01" y="1634.6" font-size="23.2" transform="rotate(-0.25 782.01 1634.6)" textLength="6.45" lengthAdjust="spacingAndGlyphs" stroke="#000" stroke-width="0.81" stroke-linejoin="round">I</text>
<text x="787.14" y="1639.69" font-size="17" transform="rotate(-0.25 787.14 1639.69)" textLength="50" lengthAdjust="spacingAndGlyphs" stroke="#000" stroke-width="0.6" stroke-linejoin="round">F(AV)</text>
<text x="789.51" y="1714.56" font-size="23.2" transform="rotate(-0.25 789.51 1714.56)" textLength="6.45" lengthAdjust="spacingAndGlyphs" stroke="#000" stroke-width="0.81" stroke-linejoin="round">I</text>
<text x="794.75" y="1718.16" font-size="17" transform="rotate(-0.25 794.75 1718.16)" textLength="37.67" lengthAdjust="spacingAndGlyphs" stroke="#000" stroke-width="0.6" stroke-linejoin="round">FSM</text>
<text x="798.3" y="1792.13" font-size="23.2" transform="rotate(-0.25 798.3 1792.13)" textLength="15.47" lengthAdjust="spacingAndGlyphs" stroke="#000" stroke-width="0.81" stroke-linejoin="round">V</text>
<text x="815.04" y="1795.67" font-size="17" transform="rotate(-0.25 815.04 1795.67)" textLength="7.67" lengthAdjust="spacingAndGlyphs" stroke="#000" stroke-width="0.6" stroke-linejoin="round">F</text>
<text x="802.46" y="1870.91" font-size="23.2" transform="rotate(-0.25 802.46 1870.91)" textLength="6.45" lengthAdjust="spacingAndGlyphs" stroke="#000" stroke-width="0.81" stroke-linejoin="round">I</text>
<text x="807.68" y="1875.5" font-size="17" transform="rotate(-0.25 807.68 1875.5)" textLength="13.06" lengthAdjust="spacingAndGlyphs" stroke="#000" stroke-width="0.6" stroke-linejoin="round">R</text>
<text x="798.78" y="1945.33" font-size="23.2" transform="rotate(-0.25 798.78 1945.33)" textLength="14.17" lengthAdjust="spacingAndGlyphs" stroke="#000" stroke-width="0.81" stroke-linejoin="round">T</text>
<text x="814.52" y="1949.08" font-size="17" transform="rotate(-0.25 814.52 1949.08)" textLength="9.37" lengthAdjust="spacingAndGlyphs" stroke="#000" stroke-width="0.6" stroke-linejoin="round">J</text>
<text x="787.58" y="2004.88" font-size="23.2" transform="rotate(-0.25 787.58 2004.88)" textLength="14.17" lengthAdjust="spacingAndGlyphs" stroke="#000" stroke-width="0.81" stroke-linejoin="round">T</text>
<text x="802.87" y="2008.32" font-size="17" transform="rotate(-0.25 802.87 2008.32)" textLength="33.65" lengthAdjust="spacingAndGlyphs" stroke="#000" stroke-width="0.6" stroke-linejoin="round">STG</text>
<text x="920.69" y="1429.9" font-size="24.5" transform="rotate(-0.25 920.69 1429.9)" textLength="22.79" lengthAdjust="spacingAndGlyphs" stroke="#000" stroke-width="0.6" stroke-linejoin="round">50</text>
<text x="993.56" y="1429.58" font-size="24.5" transform="rotate(-0.25 993.56 1429.58)" textLength="34.51" lengthAdjust="spacingAndGlyphs" stroke="#000" stroke-width="0.6" stroke-linejoin="round">100</text>
<text x="1072.82" y="1429.24" font-size="24.5" transform="rotate(-0.25 1072.82 1429.24)" textLength="34.52" lengthAdjust="spacingAndGlyphs" stroke="#000" stroke-width="0.6" stroke-linejoin="round">200</text>
<text x="1152.1" y="1428.89" font-size="24.5" transform="rotate(-0.25 1152.1 1428.89)" textLength="34.53" lengthAdjust="spacingAndGlyphs" stroke="#000" stroke-width="0.6" stroke-linejoin="round">400</text>
<text x="1231.17" y="1428.55" font-size="24.5" transform="rotate(-0.25 1231.17 1428.55)" textLength="34.52" lengthAdjust="spacingAndGlyphs" stroke="#000" stroke-width="0.6" stroke-linejoin="round">600</text>
<text x="1310.39" y="1428.2" font-size="24.5" transform="rotate(-0.25 1310.39 1428.2)" textLength="34.52" lengthAdjust="spacingAndGlyphs" stroke="#000" stroke-width="0.6" stroke-linejoin="round">800</text>
<text x="1383.19" y="1427.88" font-size="24.5" transform="rotate(-0.25 1383.19 1427.88)" textLength="46.24" lengthAdjust="spacingAndGlyphs" stroke="#000" stroke-width="0.6" stroke-linejoin="round">1000</text>
<text x="920.75" y="1498.3" font-size="24.5" transform="rotate(-0.25 920.75 1498.3)" textLength="22.79" lengthAdjust="spacingAndGlyphs" stroke="#000" stroke-width="0.6" stroke-linejoin="round">35</text>
<text x="999.68" y="1497.96" font-size="24.5" transform="rotate(-0.25 999.68 1497.96)" textLength="22.78" lengthAdjust="spacingAndGlyphs" stroke="#000" stroke-width="0.6" stroke-linejoin="round">70</text>
<text x="1072.56" y="1497.64" font-size="24.5" transform="rotate(-0.25 1072.56 1497.64)" textLength="34.51" lengthAdjust="spacingAndGlyphs" stroke="#000" stroke-width="0.6" stroke-linejoin="round">140</text>
<text x="1151.82" y="1497.29" font-size="24.5" transform="rotate(-0.25 1151.82 1497.29)" textLength="34.52" lengthAdjust="spacingAndGlyphs" stroke="#000" stroke-width="0.6" stroke-linejoin="round">280</text>
<text x="1231.45" y="1496.95" font-size="24.5" transform="rotate(-0.25 1231.45 1496.95)" textLength="34.53" lengthAdjust="spacingAndGlyphs" stroke="#000" stroke-width="0.6" stroke-linejoin="round">420</text>
<text x="1310.43" y="1496.6" font-size="24.5" transform="rotate(-0.25 1310.43 1496.6)" textLength="34.52" lengthAdjust="spacingAndGlyphs" stroke="#000" stroke-width="0.6" stroke-linejoin="round">560</text>
<text x="1389.31" y="1496.26" font-size="24.5" transform="rotate(-0.25 1389.31 1496.26)" textLength="34.52" lengthAdjust="spacingAndGlyphs" stroke="#000" stroke-width="0.6" stroke-linejoin="round">700</text>
<text x="920.69" y="1567.1" font-size="24.5" transform="rotate(-0.25 920.69 1567.1)" textLength="22.79" lengthAdjust="spacingAndGlyphs" stroke="#000" stroke-width="0.6" stroke-linejoin="round">50</text>
<text x="993.56" y="1566.78" font-size="24.5" transform="rotate(-0.25 993.56 1566.78)" textLength="34.51" lengthAdjust="spacingAndGlyphs" stroke="#000" stroke-width="0.6" stroke-linejoin="round">100</text>
<text x="1072.82" y="1566.44" font-size="24.5" transform="rotate(-0.25 1072.82 1566.44)" textLength="34.52" lengthAdjust="spacingAndGlyphs" stroke="#000" stroke-width="0.6" stroke-linejoin="round">200</text>
<text x="1152.1" y="1566.09" font-size="24.5" transform="rotate(-0.25 1152.1 1566.09)" textLength="34.53" lengthAdjust="spacingAndGlyphs" stroke="#000" stroke-width="0.6" stroke-linejoin="round">400</text>
<text x="1231.17" y="1565.75" font-size="24.5" transform="rotate(-0.25 1231.17 1565.75)" textLength="34.52" lengthAdjust="spacingAndGlyphs" stroke="#000" stroke-width="0.6" stroke-linejoin="round">600</text>
<text x="1310.39" y="1565.4" font-size="24.5" transform="rotate(-0.25 1310.39 1565.4)" textLength="34.52" lengthAdjust="spacingAndGlyphs" stroke="#000" stroke-width="0.6" stroke-linejoin="round">800</text>
<text x="1383.19" y="1565.08" font-size="24.5" transform="rotate(-0.25 1383.19 1565.08)" textLength="46.24" lengthAdjust="spacingAndGlyphs" stroke="#000" stroke-width="0.6" stroke-linejoin="round">1000</text>
<text x="1156.73" y="1634.97" font-size="24.5" transform="rotate(-0.25 1156.73 1634.97)" textLength="31.7" lengthAdjust="spacingAndGlyphs" stroke="#000" stroke-width="0.6" stroke-linejoin="round">1.0</text>
<text x="1173.61" y="1714" font-size="24.5" transform="rotate(-0.25 1173.61 1714)" textLength="22.79" lengthAdjust="spacingAndGlyphs" stroke="#000" stroke-width="0.6" stroke-linejoin="round">30</text>
<text x="1151.24" y="1792.39" font-size="24.5" transform="rotate(-0.25 1151.24 1792.39)" textLength="44.66" lengthAdjust="spacingAndGlyphs" stroke="#000" stroke-width="0.6" stroke-linejoin="round">1.10</text>
<text x="1162.24" y="1858.24" font-size="24.5" transform="rotate(-0.25 1162.24 1858.24)" textLength="22.77" lengthAdjust="spacingAndGlyphs" stroke="#000" stroke-width="0.6" stroke-linejoin="round">10</text>
<text x="1156.43" y="1882.77" font-size="24.5" transform="rotate(-0.25 1156.43 1882.77)" textLength="34.52" lengthAdjust="spacingAndGlyphs" stroke="#000" stroke-width="0.6" stroke-linejoin="round">500</text>
<text x="1109.8" y="1944.1" font-size="24.5" transform="rotate(-0.25 1109.8 1944.1)" textLength="134.44" lengthAdjust="spacingAndGlyphs" stroke="#000" stroke-width="0.55" stroke-linejoin="round">− 55  to + 125</text>
<text x="1109.8" y="2003.1" font-size="24.5" transform="rotate(-0.25 1109.8 2003.1)" textLength="134.37" lengthAdjust="spacingAndGlyphs" stroke="#000" stroke-width="0.55" stroke-linejoin="round">− 55  to + 150</text>
<text x="1480.2" y="1424.6" font-size="24" transform="rotate(-0.25 1480.2 1424.6)" font-weight="bold" textLength="15.85" lengthAdjust="spacingAndGlyphs" stroke="#000" stroke-width="0.72" stroke-linejoin="round">V</text>
<text x="1480.2" y="1493.1" font-size="24" transform="rotate(-0.25 1480.2 1493.1)" font-weight="bold" textLength="15.85" lengthAdjust="spacingAndGlyphs" stroke="#000" stroke-width="0.72" stroke-linejoin="round">V</text>
<text x="1480.2" y="1561.8" font-size="24" transform="rotate(-0.25 1480.2 1561.8)" font-weight="bold" textLength="15.85" lengthAdjust="spacingAndGlyphs" stroke="#000" stroke-width="0.72" stroke-linejoin="round">V</text>
<text x="1482.64" y="1632.79" font-size="24" transform="rotate(-0.25 1482.64 1632.79)" font-weight="bold" textLength="17.85" lengthAdjust="spacingAndGlyphs" stroke="#000" stroke-width="0.72" stroke-linejoin="round">A</text>
<text x="1482.64" y="1711.19" font-size="24" transform="rotate(-0.25 1482.64 1711.19)" font-weight="bold" textLength="17.85" lengthAdjust="spacingAndGlyphs" stroke="#000" stroke-width="0.72" stroke-linejoin="round">A</text>
<text x="1483.09" y="1789.59" font-size="24" transform="rotate(-0.25 1483.09 1789.59)" font-weight="bold" textLength="16.72" lengthAdjust="spacingAndGlyphs" stroke="#000" stroke-width="0.72" stroke-linejoin="round">V</text>
<text x="1478.39" y="1855.47" font-size="22" transform="rotate(-0.25 1478.39 1855.47)" font-style="italic" textLength="12.69" lengthAdjust="spacingAndGlyphs" stroke="#000" stroke-width="0.6" stroke-linejoin="round">μ</text>
<text x="1490.9" y="1855.27" font-size="22" transform="rotate(-0.25 1490.9 1855.27)" textLength="15.49" lengthAdjust="spacingAndGlyphs" stroke="#000" stroke-width="0.9" stroke-linejoin="round">A</text>
<text x="1478.39" y="1879.47" font-size="22" transform="rotate(-0.25 1478.39 1879.47)" font-style="italic" textLength="12.69" lengthAdjust="spacingAndGlyphs" stroke="#000" stroke-width="0.6" stroke-linejoin="round">μ</text>
<text x="1490.9" y="1879.27" font-size="22" transform="rotate(-0.25 1490.9 1879.27)" textLength="15.49" lengthAdjust="spacingAndGlyphs" stroke="#000" stroke-width="0.9" stroke-linejoin="round">A</text>
<text x="1478.34" y="1941.74" font-size="24" transform="rotate(-0.25 1478.34 1941.74)" textLength="26.84" lengthAdjust="spacingAndGlyphs" stroke="#000" stroke-width="0.84" stroke-linejoin="round">℃</text>
<text x="1478.34" y="1999.54" font-size="24" transform="rotate(-0.25 1478.34 1999.54)" textLength="26.84" lengthAdjust="spacingAndGlyphs" stroke="#000" stroke-width="0.84" stroke-linejoin="round">℃</text>
<text x="1185.23" y="2156.42" font-size="14.9" textLength="338.33" lengthAdjust="spacingAndGlyphs" stroke="#000" stroke-width="0.35" stroke-linejoin="round">JINAN GUDE ELECTRONIC DEVICE CO., LTD.</text>
</svg></body></html>
